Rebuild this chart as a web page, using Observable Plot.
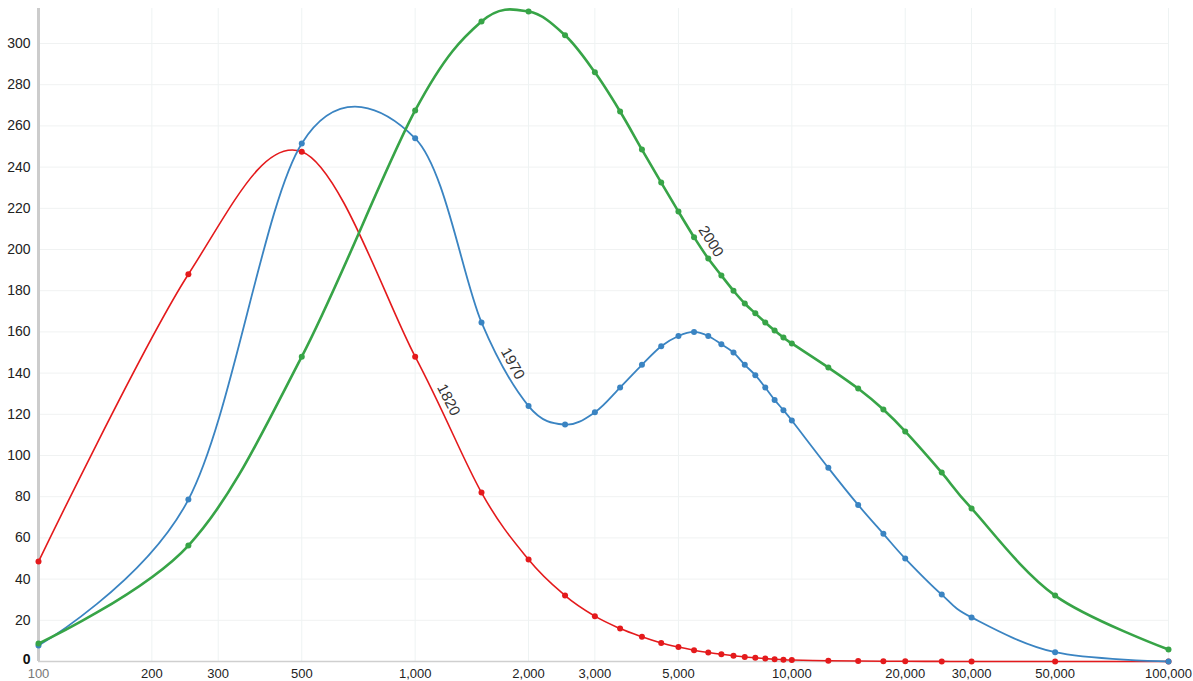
<!DOCTYPE html>
<html>
<head>
<meta charset="utf-8">
<script src="https://cdn.jsdelivr.net/npm/d3@7"></script>
<script src="https://cdn.jsdelivr.net/npm/@observablehq/plot@0.6"></script>
<style>
  html, body { margin: 0; padding: 0; background: #fff; }
  #chart svg { display: block; font-family: "Liberation Sans", Arial, sans-serif; }
</style>
</head>
<body>
<div id="chart"></div>
<script>
// Shared x values (log scale)
const xValues = [100, 250, 500, 1000, 1500, 2000, 2500, 3000, 3500, 4000, 4500, 5000, 5500, 6000, 6500, 7000, 7500, 8000, 8500, 9000, 9500, 10000, 12500, 15000, 17500, 20000, 25000, 30000, 50000, 100000];

const series1820 = [48.5, 188, 247.5, 148, 82, 49.5, 32, 22, 16, 12, 9, 7, 5.5, 4.4, 3.5, 2.8, 2.2, 1.8, 1.4, 1.1, 0.9, 0.7, 0.4, 0.25, 0.15, 0.1, 0.05, 0, 0, 0];
const series1970 = [7.8, 78.6, 251.5, 254, 164.6, 124, 115, 121, 133, 144, 153, 158, 160, 158, 154, 150, 144, 139, 133, 127, 122, 117, 94, 76, 62, 50, 32.5, 21.4, 4.5, 0];
const series2000 = [8.7, 56.3, 148, 267.5, 310.7, 315.5, 304, 286, 267, 248.5, 232.5, 218.4, 206, 195.6, 187.4, 180, 173.8, 169, 164.6, 160.7, 157.3, 154.4, 142.7, 132.5, 122.3, 111.7, 91.7, 74.3, 32, 5.8];

const seriesNames = ["1820", "1970", "2000"];
const seriesColors = ["#e41a1c", "#3a84c2", "#37a447"];

const xTicks = [100, 200, 300, 500, 1000, 2000, 3000, 5000, 10000, 20000, 30000, 50000, 100000];
const yTicks = [0, 20, 40, 60, 80, 100, 120, 140, 160, 180, 200, 220, 240, 260, 280, 300];

// Inline series labels (data coordinates + angle along the curve)
const labelNames = ["1820", "1970", "2000"];
const labelX = [1226, 1815, 6100];
const labelY = [127, 144.6, 204];
const labelAngle = [63, 61, 58];

const rows = [];
[series1820, series1970, series2000].forEach((vals, i) => {
  vals.forEach((v, j) => rows.push({series: seriesNames[i], x: xValues[j], y: v}));
});
const labels = labelNames.map((t, i) => ({series: t, x: labelX[i], y: labelY[i], angle: labelAngle[i]}));

const fmt = d3.format(",");

const chart = Plot.plot({
  width: 1193,
  height: 681,
  marginLeft: 38,
  marginRight: 25,
  marginTop: 8,
  marginBottom: 20,
  style: {fontFamily: "Liberation Sans, Arial, sans-serif", background: "#fff"},
  x: {type: "log", domain: [100, 100000]},
  y: {domain: [0, 317]},
  color: {domain: seriesNames, range: seriesColors},
  marks: [
    Plot.gridY(yTicks, {stroke: "#f0f2f2", strokeOpacity: 1}),
    Plot.gridX(xTicks, {stroke: "#eef3f3", strokeOpacity: 1}),
    Plot.ruleY([0], {stroke: "#cfcfcf", strokeWidth: 1.5}),
    Plot.ruleX([100], {stroke: "#cccccc", strokeWidth: 3}),
    Plot.axisY(yTicks.filter(d => d !== 0), {label: null, tickSize: 0, tickPadding: 8, fontSize: 14, fill: "#222"}),
    Plot.axisY([0], {label: null, tickSize: 0, tickPadding: 8, fontSize: 14, fill: "#111", fontWeight: "bold", dy: -2}),
    Plot.axisX(xTicks.filter(d => d !== 100), {label: null, tickSize: 0, tickPadding: 7, fontSize: 13, fill: "#222", tickFormat: fmt}),
    Plot.axisX([100], {label: null, tickSize: 0, tickPadding: 7, fontSize: 13, fill: "#777", tickFormat: fmt}),
    Plot.line(rows.filter(d => d.series === "1820"), {x: "x", y: "y", stroke: "series", strokeWidth: 1.6, curve: "cardinal"}),
    Plot.line(rows.filter(d => d.series === "1970"), {x: "x", y: "y", stroke: "series", strokeWidth: 1.8, curve: "cardinal"}),
    Plot.line(rows.filter(d => d.series === "2000"), {x: "x", y: "y", stroke: "series", strokeWidth: 2.6, curve: "cardinal"}),
    Plot.dot(rows, {x: "x", y: "y", fill: "series", r: 3, stroke: null}),
    Plot.text(labels, {x: "x", y: "y", text: "series", rotate: "angle", fontSize: 15, fill: "#333"})
  ]
});
document.getElementById("chart").appendChild(chart);
</script>
</body>
</html>
